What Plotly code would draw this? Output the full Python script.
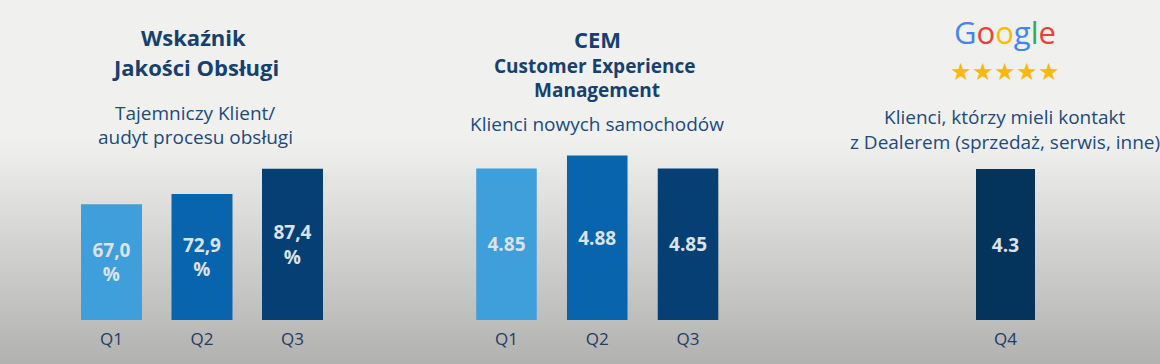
import plotly.graph_objects as go

# ---- data ----
cats_jakosc = ["Q1", "Q2", "Q3"]
values_jakosc = [67.0, 72.9, 87.4]

cats_cem = ["Q1", "Q2", "Q3"]
values_cem = [4.85, 4.88, 4.85]
cem_axis_base = 4.5

cats_google = ["Q4"]
values_google = [4.3]

colors_q = ["#3f9fdb", "#0865ad", "#053f74"]
color_q4 = "#04335c"

W, H = 1160, 364
FONT = "Open Sans"
TITLE_C = "#16406f"
SUB_C = "#1b4a80"
TICK_C = "#1e3c64"
VAL_C = "#dde2e8"

fig = go.Figure()

lab_jakosc = [f"<b>{v:.1f}".replace(".", ",") + "<br>%</b>" for v in values_jakosc]
lab_cem = [f"<b>{v:.2f}</b>" for v in values_cem]
lab_google = [f"<b>{v:.1f}</b>" for v in values_google]

common = dict(textposition="inside", insidetextanchor="middle", textangle=0,
              textfont=dict(family=FONT, size=19, color=VAL_C), hoverinfo="skip")

fig.add_trace(go.Bar(x=cats_jakosc, y=values_jakosc, text=lab_jakosc, width=0.674,
                     marker=dict(color=colors_q, line=dict(width=0)),
                     xaxis="x", yaxis="y", **common))
fig.add_trace(go.Bar(x=cats_cem, y=[v - cem_axis_base for v in values_cem],
                     base=cem_axis_base, text=lab_cem, width=0.667,
                     marker=dict(color=colors_q, line=dict(width=0)),
                     xaxis="x2", yaxis="y2", **common))
fig.add_trace(go.Bar(x=cats_google, y=values_google, text=lab_google, width=0.652,
                     marker=dict(color=color_q4, line=dict(width=0)),
                     xaxis="x3", yaxis="y3", **common))

def px(a, b):
    return [a / W, b / W]

ydom = [44 / H, 214 / H]
xax = dict(showgrid=False, zeroline=False, showline=False, ticks="",
           tickfont=dict(family=FONT, size=17, color=TICK_C), ticklabelstandoff=7,
           fixedrange=True)
yax = dict(visible=False, showgrid=False, zeroline=False, fixedrange=True)

fig.update_layout(
    width=W, height=H,
    margin=dict(l=0, r=0, t=0, b=0),
    paper_bgcolor="#f0f1ee", plot_bgcolor="rgba(0,0,0,0)",
    showlegend=False,
    uniformtext=dict(minsize=19, mode="show"),
    xaxis=dict(domain=px(66.25, 337.75), range=[-0.5, 2.5], anchor="y", **xax),
    xaxis2=dict(domain=px(461.1, 733.4), range=[-0.5, 2.5], anchor="y2", **xax),
    xaxis3=dict(domain=px(960.25, 1050.75), range=[-0.5, 0.5], anchor="y3", **xax),
    yaxis=dict(domain=ydom, range=[0, 98.3], anchor="x", **yax),
    yaxis2=dict(domain=ydom, range=[cem_axis_base, 4.8926], anchor="x2", **yax),
    yaxis3=dict(domain=ydom, range=[0, 4.841], anchor="x3", **yax),
)

# background gradient (decorative)
shapes = []
top_c = (240, 241, 238)
bot_c = (177, 177, 175)
y0 = 140
step = 4
y = y0
while y < H:
    t = (y + step / 2 - y0) / (H - y0)
    c = tuple(int(round(top_c[i] + (bot_c[i] - top_c[i]) * t)) for i in range(3))
    shapes.append(dict(type="rect", xref="paper", yref="paper", layer="below",
                       x0=0, x1=1, y0=1 - (y + step) / H, y1=1 - y / H,
                       line=dict(width=0), fillcolor=f"rgb{c}"))
    y += step
fig.update_layout(shapes=shapes)

def ann(x, y, text, size, color, bold=False):
    fig.add_annotation(x=x / W, y=1 - y / H, xref="paper", yref="paper",
                       text=f"<b>{text}</b>" if bold else text, showarrow=False,
                       xanchor="center", yanchor="middle",
                       font=dict(family=FONT, size=size, color=color))

# panel 1
ann(193, 37, "Wskaźnik", 22, TITLE_C, True)
ann(195, 67, "Jakości Obsługi", 22, TITLE_C, True)
ann(195, 113, "Tajemniczy Klient/", 19, SUB_C)
ann(195, 137, "audyt procesu obsługi", 19, SUB_C)
# panel 2
ann(597, 39, "CEM", 22, TITLE_C, True)
ann(595, 66, "Customer Experience", 19, TITLE_C, True)
ann(597, 90, "Management", 19, TITLE_C, True)
ann(597, 124, "Klienci nowych samochodów", 19, SUB_C)
# panel 3
google = ("<span style='color:#4285F4'>G</span><span style='color:#EA4335'>o</span>"
          "<span style='color:#FBBC05'>o</span><span style='color:#4285F4'>g</span>"
          "<span style='color:#34A853'>l</span><span style='color:#EA4335'>e</span>")
ann(1005, 32, google, 31, "#4285F4")
ann(1005, 71, "★★★★★", 24, "#f8b90c")
ann(1005, 117, "Klienci, którzy mieli kontakt", 19, SUB_C)
ann(1005, 142, "z Dealerem (sprzedaż, serwis, inne)", 19, SUB_C)

fig.write_html("out.html", config={"displayModeBar": False},
               post_script="document.body.style.margin='0';")
